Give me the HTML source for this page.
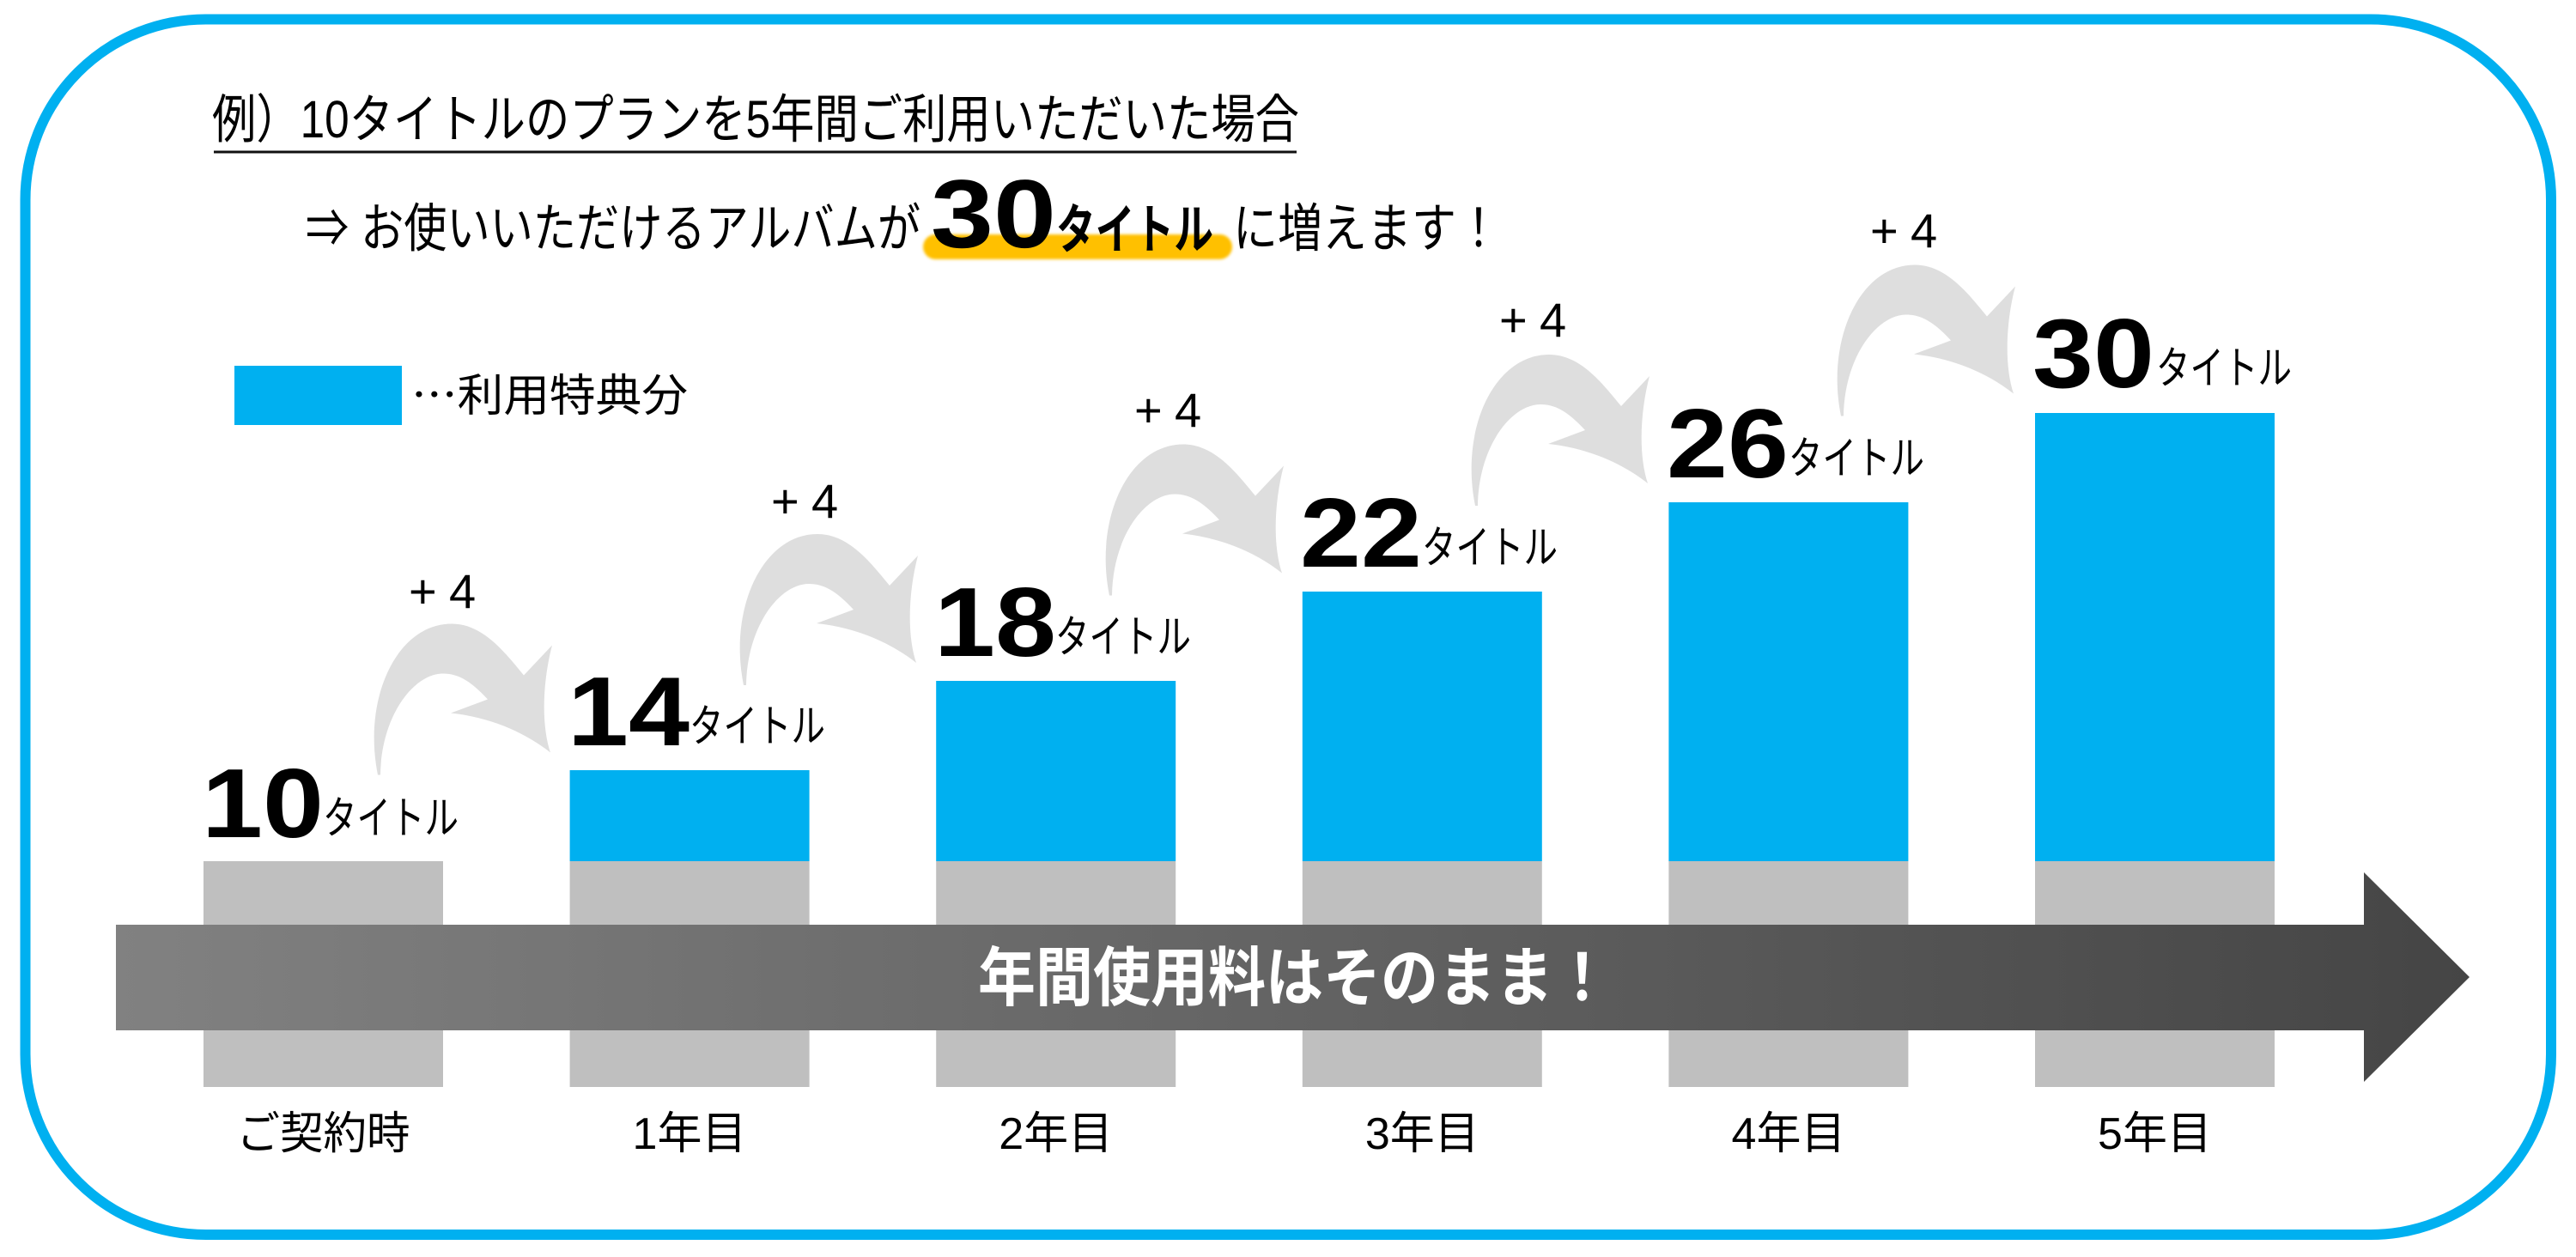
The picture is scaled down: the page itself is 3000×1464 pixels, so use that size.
<!DOCTYPE html>
<html><head><meta charset="utf-8"><style>
html,body{margin:0;padding:0;background:#fff;}
svg{display:block;}
text{font-family:"Liberation Sans","Noto Sans CJK JP",sans-serif;}
</style></head><body>
<svg width="3000" height="1464" viewBox="0 0 3000 1464" xmlns="http://www.w3.org/2000/svg">
<defs>
<linearGradient id="band" x1="135" y1="0" x2="2876" y2="0" gradientUnits="userSpaceOnUse">
<stop offset="0" stop-color="#818181"/><stop offset="1" stop-color="#454545"/>
</linearGradient>
<filter id="blur" x="-5%" y="-30%" width="110%" height="160%"><feGaussianBlur stdDeviation="1.6"/></filter>
<path id="arw" d="M1718,589 C1700,500 1740,413 1804,413 C1840,413 1865,445 1888,473 L1921,438 C1910,480 1908,530 1919,563 C1890,540 1850,522 1803,517 L1846,501 C1825,478 1810,471 1794,471 C1760,471 1722,520 1721,589 Z" fill="#dedede"/>
</defs>
<rect x="0" y="0" width="3000" height="1464" fill="#fff"/>
<rect x="29.5" y="22.5" width="2941.5" height="1415.5" rx="210" ry="210" fill="#fff" stroke="#00b0f0" stroke-width="12"/>

<!-- title -->
<text x="247" y="160" font-size="61" textLength="1266" lengthAdjust="spacingAndGlyphs">例）10タイトルのプランを5年間ご利用いただいた場合</text>
<rect x="249" y="175.5" width="1261" height="3" fill="#111"/>

<!-- line 2 -->
<rect x="1075" y="273" width="360" height="29" rx="14.5" fill="#ffc000" filter="url(#blur)"/>
<text x="356" y="287" font-size="61" textLength="716" lengthAdjust="spacingAndGlyphs">⇒ お使いいただけるアルバムが</text>
<text x="1084" y="288" font-size="113" font-weight="bold" textLength="146" lengthAdjust="spacingAndGlyphs">30</text>
<text x="1230" y="289" font-size="62" font-weight="bold" textLength="183" lengthAdjust="spacingAndGlyphs">タイトル</text>
<text x="1436" y="287" font-size="61" textLength="312" lengthAdjust="spacingAndGlyphs">に増えます！</text>

<!-- legend -->
<rect x="273" y="426" width="195" height="69" fill="#00b0f0"/>
<text x="479" y="479" font-size="52" textLength="322" lengthAdjust="spacingAndGlyphs"><tspan style="font-family:'Noto Sans CJK JP',sans-serif">…</tspan>利用特典分</text>

<!-- gray bars -->
<g fill="#bfbfbf">
<rect x="237" y="1003" width="279" height="263"/>
<rect x="663.6" y="1003" width="279" height="263"/>
<rect x="1090.2" y="1003" width="279" height="263"/>
<rect x="1516.8" y="1003" width="279" height="263"/>
<rect x="1943.4" y="1003" width="279" height="263"/>
<rect x="2370" y="1003" width="279" height="263"/>
</g>
<!-- blue bars -->
<g fill="#00b0f0">
<rect x="663.6" y="897" width="279" height="106"/>
<rect x="1090.2" y="793" width="279" height="210"/>
<rect x="1516.8" y="689" width="279" height="314"/>
<rect x="1943.4" y="585" width="279" height="418"/>
<rect x="2370" y="481" width="279" height="522"/>
</g>

<!-- band arrow -->
<polygon points="135,1077 2753,1077 2753,1016 2876,1138 2753,1260 2753,1200 135,1200" fill="url(#band)"/>
<text x="1139" y="1165" font-size="75" font-weight="bold" fill="#fff" textLength="737" lengthAdjust="spacingAndGlyphs">年間使用料はそのまま！</text>

<!-- curved arrows -->
<use href="#arw" transform="translate(-1278,313.5)"/>
<use href="#arw" transform="translate(-852,209)"/>
<use href="#arw" transform="translate(-426,104.5)"/>
<use href="#arw"/>
<use href="#arw" transform="translate(426,-104.5)"/>

<!-- +4 labels -->
<g font-size="56">
<text y="708"><tspan x="476">+</tspan><tspan x="523">4</tspan></text>
<text y="603"><tspan x="898">+</tspan><tspan x="945">4</tspan></text>
<text y="497"><tspan x="1321">+</tspan><tspan x="1368">4</tspan></text>
<text y="392"><tspan x="1746">+</tspan><tspan x="1793">4</tspan></text>
<text y="288"><tspan x="2178">+</tspan><tspan x="2225">4</tspan></text>
</g>

<!-- value labels -->
<g font-weight="bold" font-size="114">
<text x="235" y="975" textLength="142" lengthAdjust="spacingAndGlyphs">10</text>
<text x="661" y="868" textLength="142" lengthAdjust="spacingAndGlyphs">14</text>
<text x="1088" y="764" textLength="142" lengthAdjust="spacingAndGlyphs">18</text>
<text x="1514" y="660" textLength="142" lengthAdjust="spacingAndGlyphs">22</text>
<text x="1941" y="556" textLength="142" lengthAdjust="spacingAndGlyphs">26</text>
<text x="2367" y="451" textLength="142" lengthAdjust="spacingAndGlyphs">30</text>
</g>
<g font-size="52">
<text x="376" y="971" textLength="158" lengthAdjust="spacingAndGlyphs">タイトル</text>
<text x="803" y="864" textLength="158" lengthAdjust="spacingAndGlyphs">タイトル</text>
<text x="1229" y="760" textLength="158" lengthAdjust="spacingAndGlyphs">タイトル</text>
<text x="1656" y="656" textLength="158" lengthAdjust="spacingAndGlyphs">タイトル</text>
<text x="2083" y="552" textLength="158" lengthAdjust="spacingAndGlyphs">タイトル</text>
<text x="2511" y="447" textLength="158" lengthAdjust="spacingAndGlyphs">タイトル</text>
</g>

<!-- x labels -->
<g font-size="52" text-anchor="middle">
<text x="376.5" y="1338" textLength="202" lengthAdjust="spacingAndGlyphs">ご契約時</text>
<text x="803" y="1338">1年目</text>
<text x="1229.7" y="1338">2年目</text>
<text x="1656.3" y="1338">3年目</text>
<text x="2083" y="1338">4年目</text>
<text x="2509.5" y="1338">5年目</text>
</g>
</svg>
</body></html>
